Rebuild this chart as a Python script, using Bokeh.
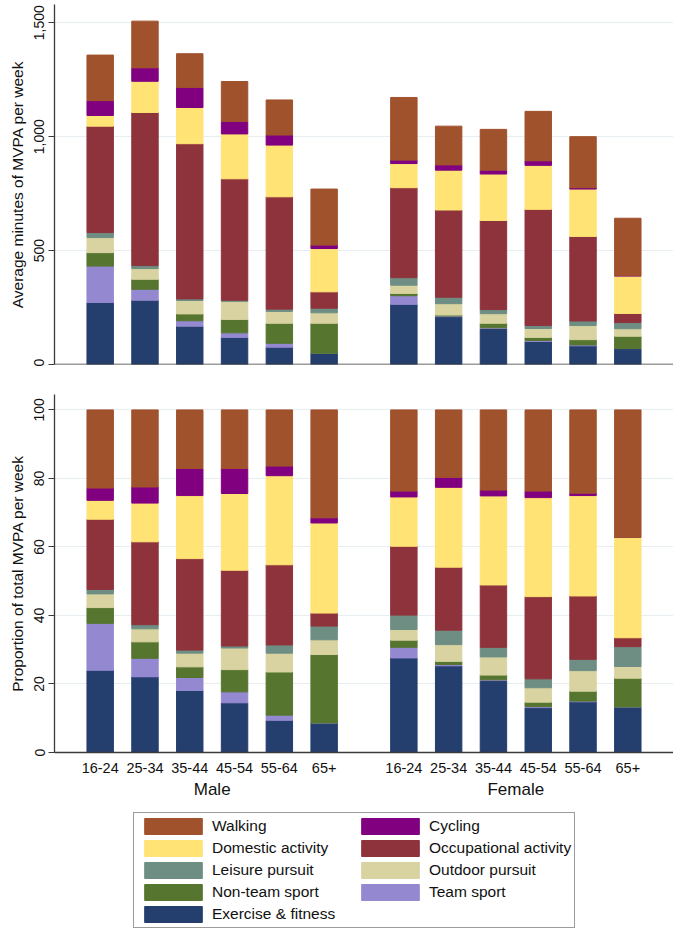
from bokeh.plotting import figure
from bokeh.models import (ColumnDataSource, FactorRange, Range1d, FixedTicker,
                          NumeralTickFormatter, Legend, LegendItem, Span)
from bokeh.layouts import column
from bokeh.embed import file_html
from bokeh.resources import INLINE

FONT = "Liberation Sans"

sexes = ["Male", "Female"]
ages = ["16-24", "25-34", "35-44", "45-54", "55-64", "65+"]

# stack order bottom -> top
activities = ["Exercise & fitness", "Team sport", "Non-team sport", "Outdoor pursuit",
              "Leisure pursuit", "Occupational activity", "Domestic activity",
              "Cycling", "Walking"]
colors = ["#243E6E", "#9489D0", "#56752F", "#D8D3A0", "#6E8E84",
          "#8E333C", "#FFE375", "#800080", "#A0522D"]

# Average minutes of MVPA per week (Male 6 ages, then Female 6 ages)
min_exercise = [272, 282, 168, 119, 76, 49, 264, 210, 158, 101, 82, 70]
min_team = [160, 48, 24, 20, 17, 0, 38, 3, 3, 4, 4, 0]
min_nonteam = [59, 44, 30, 59, 88, 132, 10, 4, 20, 14, 23, 54]
min_outdoor = [66, 47, 59, 79, 52, 46, 36, 50, 42, 39, 62, 33]
min_leisure = [22, 13, 7, 5, 10, 20, 33, 28, 18, 13, 20, 27]
min_occupational = [467, 672, 681, 533, 493, 72, 395, 383, 391, 510, 371, 40]
min_domestic = [47, 137, 159, 197, 227, 190, 106, 175, 204, 193, 208, 164]
min_cycling = [65, 59, 88, 55, 44, 15, 15, 23, 17, 20, 6, 3]
min_walking = [200, 205, 148, 175, 154, 246, 275, 170, 179, 217, 224, 251]

# Proportion of total MVPA per week (%)
pct_exercise = [24.0, 22.1, 18.1, 14.5, 9.4, 8.6, 27.6, 25.3, 21.0, 13.1, 14.8, 13.3]
pct_team = [13.7, 5.4, 3.8, 3.2, 1.5, 0.0, 3.1, 0.4, 0.2, 0.3, 0.2, 0.0]
pct_nonteam = [4.6, 4.8, 3.1, 6.5, 12.6, 20.0, 2.1, 0.9, 1.4, 1.3, 2.9, 8.4]
pct_outdoor = [4.0, 3.8, 4.0, 6.3, 5.5, 4.3, 3.1, 4.9, 5.3, 4.2, 6.0, 3.4]
pct_leisure = [1.3, 1.2, 0.9, 0.6, 2.4, 4.0, 4.2, 4.2, 2.8, 2.6, 3.3, 5.8]
pct_occupational = [20.5, 24.2, 26.7, 22.1, 23.4, 3.8, 20.1, 18.4, 18.2, 24.0, 18.5, 2.6]
pct_domestic = [5.5, 11.3, 18.4, 22.4, 26.0, 26.3, 14.4, 23.3, 26.0, 28.9, 29.3, 29.3]
pct_cycling = [3.6, 4.7, 7.9, 7.3, 2.8, 1.5, 1.7, 2.9, 1.7, 1.9, 0.7, 0.0]
pct_walking = [22.8, 22.5, 17.1, 17.1, 16.4, 31.5, 23.7, 19.7, 23.4, 23.7, 24.3, 37.2]

top_ticks = [0, 500, 1000, 1500]
bot_ticks = [0, 20, 40, 60, 80, 100]

keys = ["exercise", "team", "nonteam", "outdoor", "leisure", "occupational",
        "domestic", "cycling", "walking"]
x = [(s, a) for s in sexes for a in ages]

src_min = ColumnDataSource(dict(x=x, exercise=min_exercise, team=min_team,
                                nonteam=min_nonteam, outdoor=min_outdoor,
                                leisure=min_leisure, occupational=min_occupational,
                                domestic=min_domestic, cycling=min_cycling,
                                walking=min_walking))
src_pct = ColumnDataSource(dict(x=x, exercise=pct_exercise, team=pct_team,
                                nonteam=pct_nonteam, outdoor=pct_outdoor,
                                leisure=pct_leisure, occupational=pct_occupational,
                                domestic=pct_domestic, cycling=pct_cycling,
                                walking=pct_walking))

x_range = FactorRange(factors=x, group_padding=0.78, range_padding=0.52,
                      range_padding_units="absolute")

AX = "#3a3a3a"
GRID = "#e6eef2"
TXT = "#111111"
W = 673


def style_y(p, label, ticks, fmt=None):
    ax = p.yaxis[0]
    ax.axis_label = label
    ax.axis_label_text_font = FONT
    ax.axis_label_text_font_size = "15.5px"
    ax.axis_label_text_font_style = "normal"
    ax.axis_label_text_color = TXT
    ax.axis_label_standoff = 6
    ax.major_label_text_font = FONT
    ax.major_label_text_font_size = "14px"
    ax.major_label_text_color = TXT
    ax.major_label_orientation = "vertical"
    ax.major_label_standoff = 4
    ax.ticker = FixedTicker(ticks=ticks)
    if fmt:
        ax.formatter = fmt
    ax.axis_line_color = AX
    ax.axis_line_width = 1.3
    ax.major_tick_line_color = AX
    ax.major_tick_out = 6
    ax.major_tick_in = 0
    ax.minor_tick_line_color = None
    p.ygrid.grid_line_color = GRID
    p.ygrid.ticker = FixedTicker(ticks=ticks)
    p.xgrid.grid_line_color = None
    p.outline_line_color = None


# ---- top panel: minutes ----
top = figure(width=W, height=366, x_range=x_range, y_range=Range1d(0, 1580),
             output_backend="svg", toolbar_location=None,
             min_border_left=54, min_border_right=0, min_border_top=4,
             min_border_bottom=2)
top.xaxis.visible = False
top.vbar_stack(keys, x="x", width=0.59, color=colors, source=src_min)
top.add_layout(Span(location=0, dimension="width", line_color=AX, line_width=1.3))
style_y(top, "Average minutes of MVPA per week", top_ticks,
        NumeralTickFormatter(format="0,0"))

# ---- bottom panel: proportions ----
bot = figure(width=W, height=435, x_range=x_range, y_range=Range1d(0, 104.5),
             output_backend="svg", toolbar_location=None,
             min_border_left=54, min_border_right=0, min_border_top=28,
             min_border_bottom=0)
bot.vbar_stack(keys, x="x", width=0.59, color=colors, source=src_pct)
style_y(bot, "Proportion of total MVPA per week", bot_ticks)
xa = bot.xaxis[0]
xa.axis_line_color = AX
xa.axis_line_width = 1.3
xa.major_tick_line_color = None
xa.minor_tick_line_color = None
xa.major_label_text_font = FONT
xa.major_label_text_font_size = "14.5px"
xa.major_label_text_color = TXT
xa.major_label_standoff = 4
xa.group_text_font = FONT
xa.group_text_font_size = "17px"
xa.group_text_font_style = "normal"
xa.group_text_color = TXT
xa.separator_line_color = None

# ---- legend panel (its renderers are hidden; they only supply the swatches) ----
leg = figure(width=W, height=129, x_range=x_range, y_range=Range1d(0, 104.5),
             output_backend="svg", toolbar_location=None,
             min_border_left=54, min_border_right=0, min_border_top=0,
             min_border_bottom=0)
leg.xaxis.visible = False
leg.yaxis.visible = False
leg.xgrid.visible = False
leg.ygrid.visible = False
leg.outline_line_color = None
rs = leg.vbar_stack(keys, x="x", width=0.59, color=colors, source=src_pct)
for r in rs:
    r.visible = False
rmap = dict(zip(activities, rs))
order = ["Walking", "Domestic activity", "Leisure pursuit", "Non-team sport",
         "Exercise & fitness", "Cycling", "Occupational activity", "Outdoor pursuit",
         "Team sport"]
legend = Legend(items=[LegendItem(label=n, renderers=[rmap[n]]) for n in order],
                ncols=2, location=(79, 2), margin=0, click_policy="none",
                inactive_fill_alpha=0.0,
                border_line_color=AX, border_line_width=1.2,
                padding=3, spacing=2, glyph_width=72, glyph_height=20,
                label_height=16, label_width=140, label_standoff=3,
                label_text_font=FONT, label_text_font_size="15.5px",
                label_text_color=TXT, background_fill_color="white")
leg.add_layout(legend, "center")

layout = column(top, bot, leg)
open("out.html", "w").write(file_html(layout, INLINE))
